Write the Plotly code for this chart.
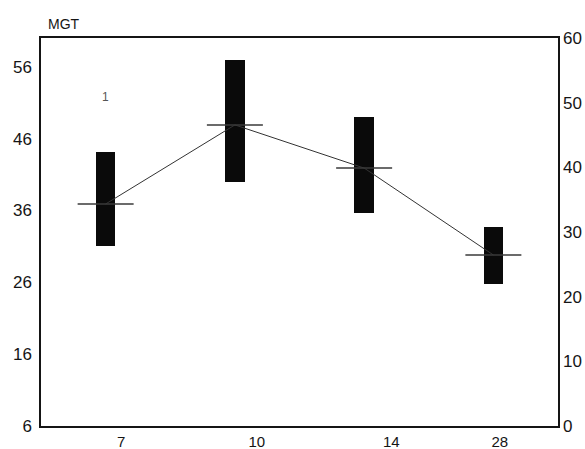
import plotly.graph_objects as go

# Days of measurement and MGT summary per day
days = ["7", "10", "14", "28"]
mgt_mean = [36.9, 47.9, 41.9, 29.8]
mgt_high = [44.1, 56.9, 49.0, 33.7]
mgt_low = [31.0, 39.9, 35.7, 25.8]

left_ticks = [6, 16, 26, 36, 46, 56]
right_ticks = [0, 10, 20, 30, 40, 50, 60]

pos = list(range(len(days)))
# the printed day labels sit a little right of their columns
label_shift = [0.12, 0.17, 0.21, 0.05]

ink = "#151515"
font = dict(family="Liberation Sans, Arial, sans-serif", size=17, color=ink)

fig = go.Figure()

# mean-to-mean connecting line
fig.add_trace(go.Scatter(
    x=pos, y=mgt_mean, mode="lines",
    line=dict(color="#333333", width=1), hoverinfo="skip", showlegend=False))

# range bars from low to high
fig.add_trace(go.Bar(
    x=pos, y=[h - l for h, l in zip(mgt_high, mgt_low)], base=mgt_low,
    width=0.15, marker=dict(color="#0a0a0a", line=dict(width=0)),
    showlegend=False))

# mean markers as short horizontal dashes
fig.add_trace(go.Scatter(
    x=pos, y=mgt_mean, mode="markers",
    marker=dict(symbol="line-ew", size=40, line=dict(color="#3a3a3a", width=1.5)),
    showlegend=False))

# right-hand scale
fig.add_trace(go.Scatter(x=[0], y=[0], yaxis="y2", mode="markers",
                         marker=dict(opacity=0), hoverinfo="skip", showlegend=False))

fig.update_layout(
    width=585, height=449,
    margin=dict(l=41, r=27, t=38, b=23),
    paper_bgcolor="white", plot_bgcolor="white",
    font=font,
    bargap=0,
    xaxis=dict(
        range=[-0.5, 3.5], automargin=False,
        tickvals=[p + s for p, s in zip(pos, label_shift)], ticktext=days,
        showgrid=False, zeroline=False, ticks="",
        showline=True, mirror=True, linecolor=ink, linewidth=1.5,
        tickfont=dict(size=15), ticklabelstandoff=1),
    yaxis=dict(
        range=[6, 60], tickvals=left_ticks, automargin=False,
        showgrid=False, zeroline=False, ticks="",
        showline=True, mirror=True, linecolor=ink, linewidth=1.5,
        ticklabelstandoff=4),
    yaxis2=dict(
        range=[0, 60], tickvals=right_ticks, overlaying="y", side="right",
        automargin=False,
        showgrid=False, zeroline=False, ticks="", showline=False,
        ticklabelstandoff=4),
    annotations=[
        dict(text="MGT", xref="paper", yref="paper", x=0.01, y=1.0,
             xanchor="left", yanchor="bottom", yshift=4, showarrow=False,
             font=dict(size=14, color=ink)),
        dict(text="1", xref="x", yref="y", x=0, y=51.8, showarrow=False,
             font=dict(size=12, color="#555555")),
    ],
)

fig.write_html("out.html")
